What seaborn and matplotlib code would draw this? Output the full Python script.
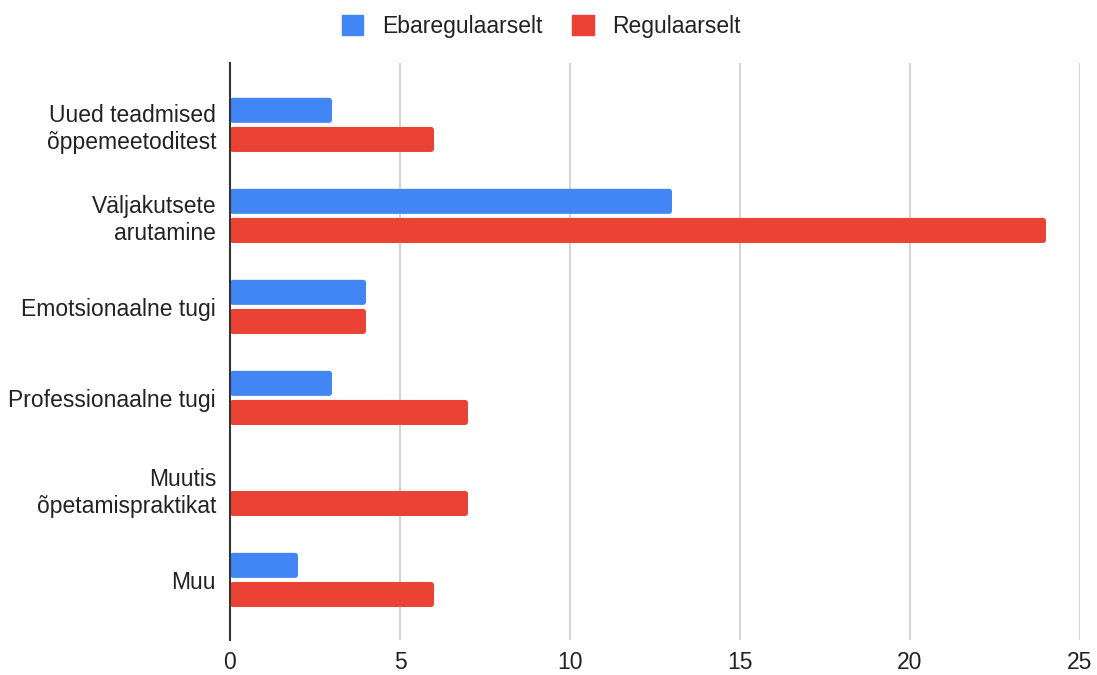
import matplotlib
matplotlib.use("Agg")
import matplotlib.pyplot as plt
import seaborn as sns
import pandas as pd
from matplotlib.patches import Patch, Rectangle, FancyBboxPatch

categories = [
    "Uued teadmised\nõppemeetoditest",
    "Väljakutsete\narutamine",
    "Emotsionaalne tugi",
    "Professionaalne tugi",
    "Muutis\nõpetamispraktikat",
    "Muu",
]
series_names = ["Ebaregulaarselt", "Regulaarselt"]
irregular = [3, 13, 4, 3, 0, 2]
regular = [6, 24, 4, 7, 7, 6]
x_ticks = [0, 5, 10, 15, 20, 25]

colors = {"Ebaregulaarselt": "#4285F4", "Regulaarselt": "#EA4335"}

df = pd.DataFrame({
    "kategooria": categories * 2,
    "seeria": [series_names[0]] * len(categories) + [series_names[1]] * len(categories),
    "väärtus": irregular + regular,
})

sns.set_theme(style="white")
plt.rcParams["font.family"] = ["Liberation Sans", "DejaVu Sans"]
FS = 16.5

fig = plt.figure(figsize=(10.97, 6.75), dpi=100)
ax = fig.add_axes([230 / 1097, 1 - 640 / 675, (1080 - 230) / 1097, (640 - 63) / 675])

sns.barplot(
    data=df, y="kategooria", x="väärtus", hue="seeria",
    order=categories, hue_order=series_names, palette=colors,
    orient="h", width=0.64, gap=0.14, ax=ax, legend=False,
    saturation=1, linewidth=0,
)

ax.set_xlim(0, 25)
ax.set_ylim(5.66, -0.68)

# swap the plain rectangles for bars with slightly rounded corners
px_per_x = (1080 - 230) / 25
px_per_y = (640 - 63) / 6.34
for p in list(ax.patches):
    if isinstance(p, Rectangle) and p.get_width() > 0:
        x0, y0 = p.get_xy()
        rounded = FancyBboxPatch(
            (x0, y0), p.get_width(), p.get_height(),
            boxstyle="round,pad=0,rounding_size=%f" % (3.0 / px_per_x),
            mutation_aspect=px_per_x / px_per_y,
            facecolor=p.get_facecolor(), linewidth=0, zorder=p.get_zorder(),
        )
        p.remove()
        ax.add_patch(rounded)

ax.set_xticks(x_ticks)
ax.set_xticklabels([str(t) for t in x_ticks], fontsize=FS, color="#222222")
ax.tick_params(axis="y", labelsize=FS, labelcolor="#222222", length=0, pad=10)
ax.tick_params(axis="x", length=0, pad=8)
ax.set_xlabel("")
ax.set_ylabel("")
for lbl in ax.get_yticklabels():
    lbl.set_multialignment("right")

ax.grid(axis="x", color="#cccccc", linewidth=1.2)
ax.set_axisbelow(True)
for side in ["top", "right", "bottom"]:
    ax.spines[side].set_visible(False)
ax.spines["left"].set_color("#333333")
ax.spines["left"].set_linewidth(1.5)
ax.spines["left"].set_zorder(5)

handles = [Patch(facecolor=colors[s], edgecolor=colors[s]) for s in series_names]
fig.legend(
    handles, series_names, loc="center", bbox_to_anchor=(541 / 1097, 1 - 26 / 675),
    ncol=2, frameon=False, fontsize=FS, handlelength=0.95, handleheight=0.95,
    handletextpad=0.8, columnspacing=1.3, labelcolor="#222222",
)

fig.savefig("out.png", dpi=100)
